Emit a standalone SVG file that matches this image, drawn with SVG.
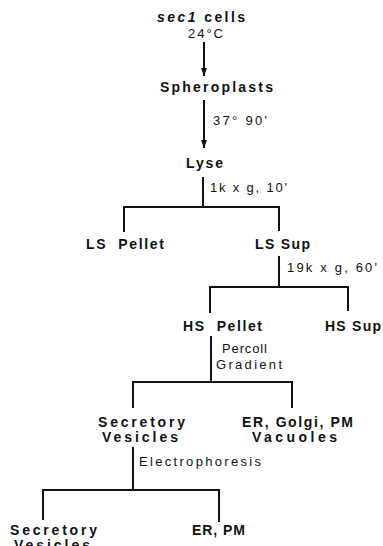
<svg xmlns="http://www.w3.org/2000/svg" width="383" height="546" viewBox="0 0 383 546">
<defs>
<marker id="ah" markerWidth="8" markerHeight="6" refX="8" refY="3" orient="auto" markerUnits="userSpaceOnUse" viewBox="0 0 8 6"><path d="M0,0 L8,3 L0,6 Z" fill="#111"/></marker>
</defs>
<style>
.b{font-family:"Liberation Sans",Arial,sans-serif;font-weight:bold;font-size:14px;fill:#111}
.n{font-family:"Liberation Sans",Arial,sans-serif;font-size:13px;fill:#111}
.c line,.c path{stroke:#111;stroke-width:2;fill:none}
</style>
<rect width="383" height="546" fill="#fff"/>
<g class="c" id="connectors">
<line x1="204" y1="42" x2="204" y2="76" marker-end="url(#ah)"/>
<line x1="204" y1="100" x2="204" y2="148" marker-end="url(#ah)"/>
<line x1="203" y1="177" x2="203" y2="207"/>
<path d="M124,232 V207 H279 V231"/>
<line x1="279" y1="256" x2="279" y2="287"/>
<path d="M210,313 V287 H348 V311"/>
<line x1="211" y1="336" x2="211" y2="382"/>
<path d="M133,408 V382 H292 V408"/>
<line x1="133" y1="447" x2="133" y2="490"/>
<path d="M43,520 V490 H219 V522"/>
</g>
<g id="sec1"><text x="157" y="22" class="b" textLength="88" lengthAdjust="spacing"><tspan font-style="italic">sec1</tspan> cells</text><text x="188" y="38" class="n" textLength="35" lengthAdjust="spacing">24°C</text></g>
<g id="spheroplasts"><text x="160" y="92" class="b" textLength="113" lengthAdjust="spacing">Spheroplasts</text></g>
<text x="213" y="125" class="n" textLength="54" lengthAdjust="spacing">37° 90'</text>
<g id="lyse"><text x="186" y="168" class="b" textLength="37" lengthAdjust="spacing">Lyse</text></g>
<text x="210" y="192" class="n" textLength="77" lengthAdjust="spacing">1k x g, 10'</text>
<g id="ls-pellet"><text x="86" y="249" class="b" textLength="78" lengthAdjust="spacing" xml:space="preserve">LS  Pellet</text></g>
<g id="ls-sup"><text x="255" y="249" class="b" textLength="55" lengthAdjust="spacing">LS Sup</text></g>
<text x="287" y="272" class="n" textLength="90" lengthAdjust="spacing">19k x g, 60'</text>
<g id="hs-pellet"><text x="183" y="331" class="b" textLength="79" lengthAdjust="spacing" xml:space="preserve">HS  Pellet</text></g>
<g id="hs-sup"><text x="325" y="331" class="b" textLength="56" lengthAdjust="spacing">HS Sup</text></g>
<text x="222" y="353" class="n" textLength="45" lengthAdjust="spacing">Percoll</text>
<text x="216" y="369" class="n" textLength="66" lengthAdjust="spacing">Gradient</text>
<g id="sv1"><text x="98" y="427" class="b" textLength="87" lengthAdjust="spacing">Secretory</text><text x="102" y="442" class="b" textLength="76" lengthAdjust="spacing">Vesicles</text></g>
<g id="er-golgi"><text x="242" y="427" class="b" textLength="111" lengthAdjust="spacing">ER, Golgi, PM</text><text x="252" y="442" class="b" textLength="85" lengthAdjust="spacing">Vacuoles</text></g>
<text x="139" y="466" class="n" textLength="122" lengthAdjust="spacing">Electrophoresis</text>
<g id="sv2"><text x="10" y="535" class="b" textLength="87" lengthAdjust="spacing">Secretory</text><text x="14" y="550" class="b" textLength="76" lengthAdjust="spacing">Vesicles</text></g>
<g id="er-pm"><text x="192" y="535" class="b" textLength="53" lengthAdjust="spacing">ER, PM</text></g>
</svg>
